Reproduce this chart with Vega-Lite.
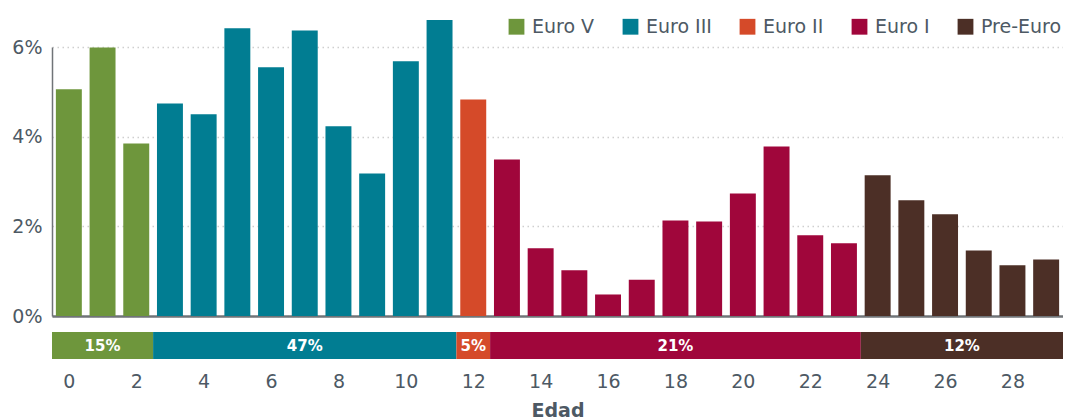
{
  "$schema": "https://vega.github.io/schema/vega-lite/v6.json",
  "padding": {"left": 11, "top": 17, "right": 0, "bottom": 0},
  "background": "white",
  "config": {
    "view": {"stroke": null},
    "font": "DejaVu Sans",
    "concat": {"spacing": 6}
  },
  "datasets": {
    "bars": [
      {"edad": 0, "pct": 5.06, "norma": "Euro V"},
      {"edad": 1, "pct": 5.99, "norma": "Euro V"},
      {"edad": 2, "pct": 3.85, "norma": "Euro V"},
      {"edad": 3, "pct": 4.74, "norma": "Euro III"},
      {"edad": 4, "pct": 4.50, "norma": "Euro III"},
      {"edad": 5, "pct": 6.42, "norma": "Euro III"},
      {"edad": 6, "pct": 5.55, "norma": "Euro III"},
      {"edad": 7, "pct": 6.37, "norma": "Euro III"},
      {"edad": 8, "pct": 4.23, "norma": "Euro III"},
      {"edad": 9, "pct": 3.18, "norma": "Euro III"},
      {"edad": 10, "pct": 5.68, "norma": "Euro III"},
      {"edad": 11, "pct": 6.60, "norma": "Euro III"},
      {"edad": 12, "pct": 4.83, "norma": "Euro II"},
      {"edad": 13, "pct": 3.49, "norma": "Euro I"},
      {"edad": 14, "pct": 1.51, "norma": "Euro I"},
      {"edad": 15, "pct": 1.02, "norma": "Euro I"},
      {"edad": 16, "pct": 0.48, "norma": "Euro I"},
      {"edad": 17, "pct": 0.81, "norma": "Euro I"},
      {"edad": 18, "pct": 2.13, "norma": "Euro I"},
      {"edad": 19, "pct": 2.11, "norma": "Euro I"},
      {"edad": 20, "pct": 2.73, "norma": "Euro I"},
      {"edad": 21, "pct": 3.78, "norma": "Euro I"},
      {"edad": 22, "pct": 1.80, "norma": "Euro I"},
      {"edad": 23, "pct": 1.62, "norma": "Euro I"},
      {"edad": 24, "pct": 3.14, "norma": "Pre-Euro"},
      {"edad": 25, "pct": 2.58, "norma": "Pre-Euro"},
      {"edad": 26, "pct": 2.27, "norma": "Pre-Euro"},
      {"edad": 27, "pct": 1.46, "norma": "Pre-Euro"},
      {"edad": 28, "pct": 1.13, "norma": "Pre-Euro"},
      {"edad": 29, "pct": 1.26, "norma": "Pre-Euro"}
    ],
    "strip": [
      {"norma": "Euro V", "inicio": 0, "fin": 3, "etiqueta": "15%"},
      {"norma": "Euro III", "inicio": 3, "fin": 12, "etiqueta": "47%"},
      {"norma": "Euro II", "inicio": 12, "fin": 13, "etiqueta": "5%"},
      {"norma": "Euro I", "inicio": 13, "fin": 24, "etiqueta": "21%"},
      {"norma": "Pre-Euro", "inicio": 24, "fin": 30, "etiqueta": "12%"}
    ]
  },
  "vconcat": [
    {
      "width": 1011,
      "height": 269,
      "data": {"name": "bars"},
      "mark": {"type": "bar", "clip": false},
      "encoding": {
        "x": {
          "field": "edad",
          "type": "ordinal",
          "scale": {"paddingInner": 0.23, "paddingOuter": 0.115},
          "axis": {"labels": false, "ticks": false, "title": null, "grid": false, "domainColor": "#707478", "domainWidth": 2.5}
        },
        "y": {
          "field": "pct",
          "type": "quantitative",
          "scale": {"domain": [0, 6], "nice": false},
          "axis": {
            "values": [0, 2, 4, 6],
            "labelExpr": "datum.value + '%'",
            "title": null,
            "ticks": false,
            "labelPadding": 10,
            "labelFontSize": 19,
            "labelColor": "#4d5964",
            "domainColor": "#707478",
            "domainWidth": 1.5,
            "gridColor": "#cfcfcf",
            "gridDash": [1.5, 3.5],
            "gridWidth": 1.5
          }
        },
        "color": {
          "field": "norma",
          "type": "nominal",
          "scale": {
            "domain": ["Euro V", "Euro III", "Euro II", "Euro I", "Pre-Euro"],
            "range": ["#6e963c", "#017d92", "#d54a29", "#a0063b", "#4c2f26"]
          },
          "legend": {
            "orient": "none",
            "legendX": 455,
            "legendY": -30,
            "direction": "horizontal",
            "title": null,
            "symbolType": "square",
            "symbolSize": 250,
            "symbolStrokeWidth": 0,
            "symbolOpacity": 1,
            "labelFontSize": 19,
            "labelColor": "#4d5964",
            "labelOffset": 6,
            "columnPadding": 26
          }
        }
      }
    },
    {
      "width": 1011,
      "height": 27,
      "data": {"name": "strip"},
      "layer": [
        {
          "mark": {"type": "rect"},
          "encoding": {
            "x": {
              "field": "inicio",
              "type": "quantitative",
              "scale": {"domain": [0, 30], "nice": false, "zero": false},
              "axis": {
                "values": [0.5, 2.5, 4.5, 6.5, 8.5, 10.5, 12.5, 14.5, 16.5, 18.5, 20.5, 22.5, 24.5, 26.5, 28.5],
                "labelExpr": "format(floor(datum.value), 'd')",
                "domain": false,
                "ticks": false,
                "grid": false,
                "labelPadding": 13,
                "labelFontSize": 19,
                "labelColor": "#4d5964",
                "title": "Edad",
                "titleFontSize": 19,
                "titleFontWeight": 600,
                "titleColor": "#4d5964",
                "titlePadding": 10
              }
            },
            "x2": {"field": "fin"},
            "color": {"field": "norma", "type": "nominal", "legend": null}
          }
        },
        {
          "transform": [
            {"fold": ["inicio", "fin"], "as": ["extremo", "pos"]}
          ],
          "mark": {"type": "text", "color": "white", "fontSize": 15, "fontWeight": 600, "baseline": "middle", "align": "center"},
          "encoding": {
            "x": {"field": "pos", "type": "quantitative", "aggregate": "mean"},
            "text": {"field": "etiqueta", "type": "nominal"}
          }
        }
      ]
    }
  ]
}
